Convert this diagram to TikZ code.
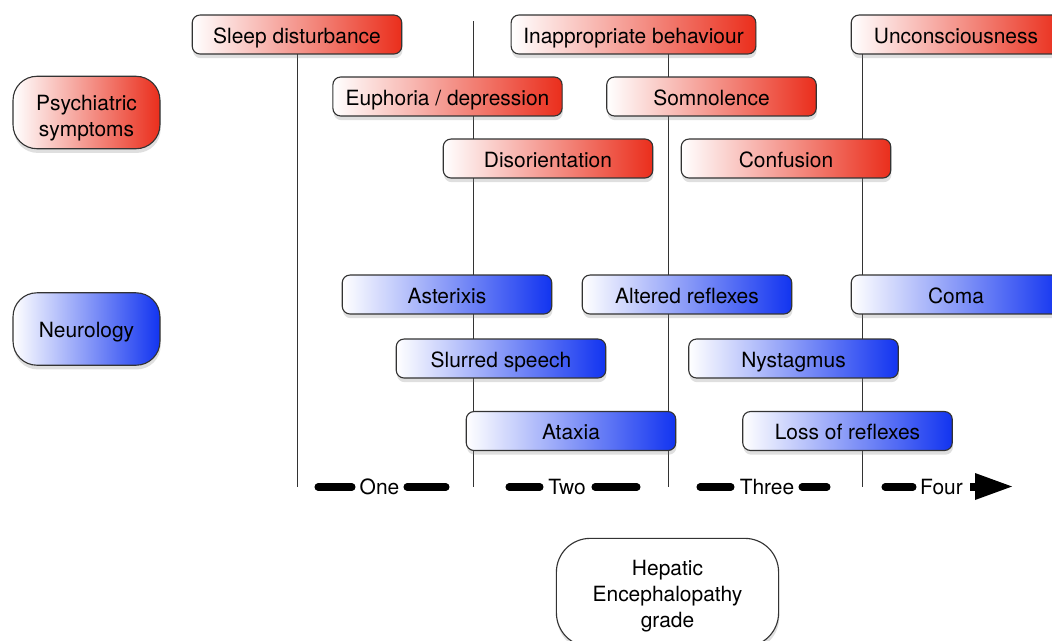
\documentclass[tikz,border=0pt]{standalone}
\usepackage{fontspec}
\setmainfont{TeX Gyre Heros}
\usetikzlibrary{shadows}
\definecolor{symred}{RGB}{234,46,28}
\definecolor{neuroblue}{RGB}{18,52,240}

\begin{document}
\begin{tikzpicture}[x=0.025cm,y=-0.025cm,
  every node/.style={font=\fontsize{14.9}{18.5}\selectfont},
  sign/.style={draw=black!80,line width=0.8pt,rounded corners=5.5pt,minimum width=149pt,
    minimum height=27.7pt,inner sep=0pt,text height=12.4pt,text depth=0pt,left color=white,
    drop shadow={shadow xshift=0.5pt,shadow yshift=-3pt,opacity=0.25}},
  psy/.style={sign,right color=symred},
  neuro/.style={sign,right color=neuroblue},
  group/.style={draw=black!80,line width=0.8pt,rounded corners=17pt,minimum width=104.5pt,
    minimum height=51.5pt,inner sep=0pt,align=center,left color=white,
    drop shadow={shadow xshift=0.5pt,shadow yshift=-3pt,opacity=0.25}},
  grade/.style={line width=0.7pt,black!80},
  axisdash/.style={line width=5pt,line cap=round}]
  \clip (0,0) rectangle (1052,640);
  % grade boundaries
  \draw[grade] (297,35)--(297,487); \draw[grade] (473,21)--(473,487);
  \draw[grade] (668,35)--(668,487); \draw[grade] (862,35)--(862,487);
  % psychiatric symptoms
  \node[group,right color=symred,text height=37.8pt,text depth=3pt] (psych) at (86.5,112.5){Psychiatric\\symptoms};
  \node[psy] (sleep) at (297,34.5){Sleep disturbance};
  \node[psy,minimum width=174pt] (inappr) at (633.5,34.5){Inappropriate behaviour};
  \node[psy] (uncons) at (956,34.5){Unconsciousness};
  \node[psy,minimum width=163pt] (euph) at (447.5,96.5){Euphoria / depression};
  \node[psy] (somn) at (711.5,96.5){Somnolence};
  \node[psy] (disor) at (548,158.5){Disorientation};
  \node[psy] (confu) at (786,158.5){Confusion};
  % neurology
  \node[group,right color=neuroblue,text height=12.4pt,text depth=0pt] (neuro) at (86.5,329){Neurology};
  \node[neuro] (aster) at (447,294.5){Asterixis};
  \node[neuro] (alter) at (687,294.5){Altered reflexes};
  \node[neuro] (coma) at (956,294.5){Coma};
  \node[neuro] (slur) at (501,358.5){Slurred speech};
  \node[neuro] (nyst) at (793.5,358.5){Nystagmus};
  \node[neuro] (atax) at (571,431){Ataxia};
  \node[neuro] (loss) at (847.5,431){Loss of reflexes};
  % grade axis
  \node (one) at (379.5,487){One}; \node (two) at (567,487){Two};
  \node (three) at (767,487){Three}; \node (four) at (941.5,487){Four};
  \foreach \a/\b in {318/352,407/446,509/540,595/637,700/731,802/827,885/913}
    \draw[axisdash] (\a,487)--(\b,487);
  \draw[line width=5pt] (970,487)--(976,487);
  \fill (975,473)--(1012,486.5)--(975,500)--cycle;
  \node[group,fill=white,minimum width=158pt,minimum height=77pt,rounded corners=24pt,
    text height=53.3pt,text depth=3pt] (hepat) at (667.5,592.5){Hepatic\\Encephalopathy\\grade};
\end{tikzpicture}
\end{document}
